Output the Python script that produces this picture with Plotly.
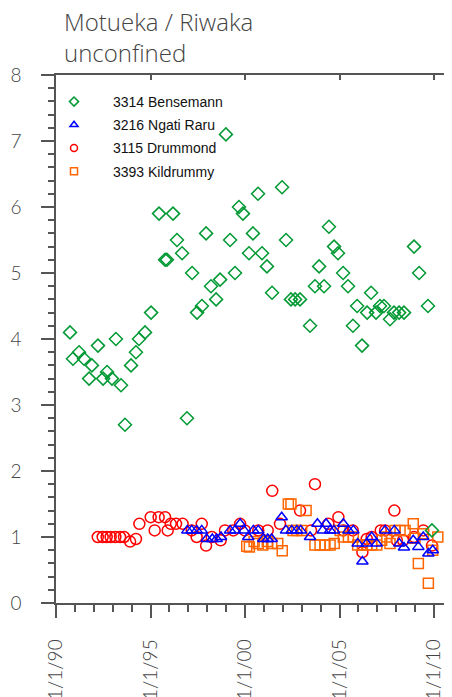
import plotly.graph_objects as go

# ---- data (decimal year, value) ----
green_year = [1990.74, 1990.90, 1991.22, 1991.48, 1991.75, 1991.90, 1992.22, 1992.49, 1992.70, 1992.96,
              1993.17, 1993.44, 1993.65, 1993.97, 1994.23, 1994.39, 1994.71, 1995.03, 1995.45, 1995.77,
              1995.87, 1996.19, 1996.40, 1996.67, 1996.93, 1997.20, 1997.46, 1997.72, 1997.94, 1998.20,
              1998.47, 1998.68, 1998.99, 1999.21, 1999.47, 1999.68, 1999.89, 2000.21, 2000.42, 2000.69,
              2000.90, 2001.16, 2001.43, 2001.96, 2002.17, 2002.43, 2002.65, 2002.91, 2003.44, 2003.70,
              2003.92, 2004.18, 2004.44, 2004.71, 2004.92, 2005.19, 2005.45, 2005.71, 2005.93, 2006.19,
              2006.46, 2006.67, 2006.93, 2007.14, 2007.35, 2007.67, 2007.88, 2008.15, 2008.41, 2008.94,
              2009.21, 2009.68, 2009.89]
green_val = [4.1, 3.7, 3.8, 3.7, 3.4, 3.6, 3.9, 3.4, 3.5, 3.4,
             4.0, 3.3, 2.7, 3.6, 3.8, 4.0, 4.1, 4.4, 5.9, 5.2,
             5.2, 5.9, 5.5, 5.3, 2.8, 5.0, 4.4, 4.5, 5.6, 4.8,
             4.6, 4.9, 7.1, 5.5, 5.0, 6.0, 5.9, 5.3, 5.6, 6.2,
             5.3, 5.1, 4.7, 6.3, 5.5, 4.6, 4.6, 4.6, 4.2, 4.8,
             5.1, 4.8, 5.7, 5.4, 5.3, 5.0, 4.8, 4.2, 4.5, 3.9,
             4.4, 4.7, 4.4, 4.5, 4.5, 4.3, 4.4, 4.4, 4.4, 5.4,
             5.0, 4.5, 1.1]

blue_year = [1996.95, 1997.18, 1997.44, 1997.71, 1997.97, 1998.27, 1998.50, 1998.73, 1999.21, 1999.47,
             1999.74, 1999.95, 2000.17, 2000.44, 2000.70, 2000.97, 2001.20, 2001.41, 2001.94, 2002.17,
             2002.47, 2002.74, 2002.95, 2003.44, 2003.83, 2004.11, 2004.29, 2004.50, 2004.71, 2005.20,
             2005.47, 2005.73, 2005.96, 2006.21, 2006.44, 2006.70, 2006.97, 2007.41, 2007.90, 2008.16,
             2008.41, 2008.90, 2009.17, 2009.43, 2009.70, 2009.93]
blue_val = [1.1, 1.1, 1.1, 1.1, 0.97, 0.97, 0.97, 1.0, 1.1, 1.1,
            1.2, 1.1, 1.0, 1.1, 1.1, 0.97, 0.97, 0.97, 1.3, 1.1,
            1.1, 1.1, 1.1, 1.0, 1.2, 1.1, 1.2, 1.1, 1.1, 1.2,
            1.1, 1.1, 0.9, 0.63, 0.9, 1.0, 0.9, 1.1, 1.1, 0.9,
            0.84, 0.95, 0.85, 1.0, 0.75, 0.8]

red_year = [1992.21, 1992.47, 1992.68, 1992.89, 1993.14, 1993.39, 1993.60, 1993.92, 1994.23, 1994.41,
            1995.01, 1995.22, 1995.43, 1995.77, 1995.91, 1996.07, 1996.35, 1996.70, 1997.18, 1997.44,
            1997.71, 1997.94, 1998.24, 1998.71, 1998.94, 1999.38, 1999.74, 1999.99, 2000.70, 2001.20,
            2001.44, 2001.85, 2002.91, 2003.49, 2003.70, 2004.41, 2004.94, 2005.20, 2005.70, 2006.21,
            2006.44, 2006.70, 2007.18, 2007.41, 2007.90, 2008.03, 2008.36, 2008.94, 2009.43, 2009.89]
red_val = [1.0, 1.0, 1.0, 1.0, 1.0, 1.0, 1.0, 0.93, 0.97, 1.2,
           1.3, 1.1, 1.3, 1.3, 1.1, 1.2, 1.2, 1.2, 1.1, 1.0,
           1.2, 0.87, 1.0, 0.95, 1.1, 1.1, 1.2, 1.1, 1.1, 1.1,
           1.7, 1.2, 1.4, 1.1, 1.8, 1.2, 1.3, 1.1, 1.1, 0.77,
           0.97, 1.0, 1.1, 1.1, 1.4, 0.95, 0.95, 1.0, 1.1, 0.87]

orange_year = [2000.09, 2000.23, 2000.48, 2000.70, 2000.94, 2001.18, 2001.41, 2001.73, 2001.97, 2002.29,
               2002.43, 2002.54, 2002.74, 2003.00, 2003.23, 2003.70, 2003.97, 2004.23, 2004.50, 2004.72,
               2005.03, 2005.20, 2005.47, 2005.73, 2005.96, 2006.21, 2006.44, 2006.70, 2006.97, 2007.23,
               2007.50, 2007.67, 2007.94, 2008.20, 2008.47, 2008.90, 2008.99, 2009.17, 2009.43, 2009.70,
               2009.93, 2010.20]
orange_val = [0.86, 0.85, 0.93, 0.9, 0.88, 0.93, 0.9, 0.9, 0.79, 1.5,
              1.5, 1.1, 1.1, 1.1, 1.4, 0.88, 0.88, 0.88, 0.88, 0.9,
              1.1, 1.0, 1.0, 1.0, 0.88, 0.88, 0.88, 0.88, 0.88, 0.95,
              1.0, 0.9, 1.1, 1.1, 1.1, 1.2, 0.98, 0.6, 1.05, 0.3,
              0.8, 1.0]

series_names = ["3314 Bensemann", "3216 Ngati Raru", "3115 Drummond", "3393 Kildrummy"]
tick_years = [1990, 1995, 2000, 2005, 2010]
tick_labels = ["1/1/90", "1/1/95", "1/1/00", "1/1/05", "1/1/10"]
title_text = "Motueka / Riwaka<br>unconfined"

GREEN = "#009933"
BLUE = "#0000ff"
RED = "#ff0000"
ORANGE = "#ff6600"

fig = go.Figure()

def add_data(xs, ys, symbol, color, size):
    fig.add_trace(go.Scatter(x=xs, y=ys, mode="markers", showlegend=False,
                             marker=dict(symbol=symbol, size=size, color=color,
                                         line=dict(color=color, width=1.5))))

add_data(red_year, red_val, "circle-open", RED, 11)
add_data(orange_year, orange_val, "square-open", ORANGE, 10)
add_data(blue_year, blue_val, "triangle-up-open", BLUE, 10)
add_data(green_year, green_val, "diamond-open", GREEN, 10)

legend_specs = [(series_names[0], "diamond-open", GREEN),
                (series_names[1], "triangle-up-open", BLUE),
                (series_names[2], "circle-open", RED),
                (series_names[3], "square-open", ORANGE)]
for i, (nm, sym, col) in enumerate(legend_specs):
    fig.add_trace(go.Scatter(x=[None], y=[None], mode="markers", name=nm,
                             legendgroup="g%d" % i,
                             marker=dict(symbol=sym, size=7, color=col,
                                         line=dict(color=col, width=1.5))))

# helper trace for mirrored top/right axes
fig.add_trace(go.Scatter(x=[None], y=[None], xaxis="x2", yaxis="y2",
                         showlegend=False, hoverinfo="skip"))

AX = "#555555"
LBL = dict(family="Lato", size=19, color="#444444", weight=300)

fig.add_annotation(text=title_text, xref="paper", yref="paper",
                   x=(62 - 56) / 396, xanchor="left", y=1 + (75 - 3) / 528, yanchor="top",
                   align="left", showarrow=False,
                   font=dict(family="Open Sans", size=24, color="#444444", weight=300))

# page body has an 8px margin: figure is laid out 8px smaller
fig.update_layout(
    width=444, height=689,
    margin=dict(l=48, r=0, t=67, b=94, autoexpand=False),
    plot_bgcolor="white", paper_bgcolor="white",
    xaxis=dict(range=[1990, 2010.95], tickmode="array", tickvals=tick_years,
               ticktext=tick_labels, tickangle=-90, ticks="outside", ticklen=13,
               tickwidth=1.5, tickcolor=AX, showline=True, linecolor=AX, linewidth=1.5,
               showgrid=False, zeroline=False, tickfont=LBL, ticklabelstandoff=14,
               automargin=False,
               minor=dict(tickmode="linear", tick0=1990, dtick=1, ticks="outside",
                          ticklen=7, tickwidth=1.5, tickcolor=AX, showgrid=False)),
    yaxis=dict(range=[0, 8], tickmode="linear", tick0=0, dtick=1, ticks="outside",
               ticklen=13, tickwidth=1.5, tickcolor=AX, showline=True, linecolor=AX,
               linewidth=1.5, showgrid=False, zeroline=False, tickfont=LBL,
               ticklabelstandoff=16, automargin=False,
               minor=dict(tickmode="linear", tick0=0, dtick=0.2, ticks="outside",
                          ticklen=6, tickwidth=1.5, tickcolor=AX, showgrid=False)),
    xaxis2=dict(range=[1990, 2010.95], overlaying="x", side="top", anchor="y2",
                tickmode="array", tickvals=tick_years, ticks="inside", ticklen=5,
                tickwidth=1.5, tickcolor=AX, showticklabels=False, showline=True,
                linecolor=AX, linewidth=1.5, showgrid=False, zeroline=False,
                automargin=False),
    yaxis2=dict(range=[0, 8], overlaying="y", side="right", anchor="x2",
                tickmode="linear", tick0=0, dtick=1, ticks="inside", ticklen=5,
                tickwidth=1.5, tickcolor=AX, showticklabels=False, showline=False,
                showgrid=False, zeroline=False, automargin=False),
    legend=dict(x=(35 - 56) / 396, xanchor="left", y=1 - 11 / 528, yanchor="top",
                bgcolor="rgba(0,0,0,0)", itemwidth=68, traceorder="grouped",
                tracegroupgap=2,
                font=dict(family="Liberation Sans", size=14, color="#111111")),
    showlegend=True,
)

fig.write_html("out.html")
